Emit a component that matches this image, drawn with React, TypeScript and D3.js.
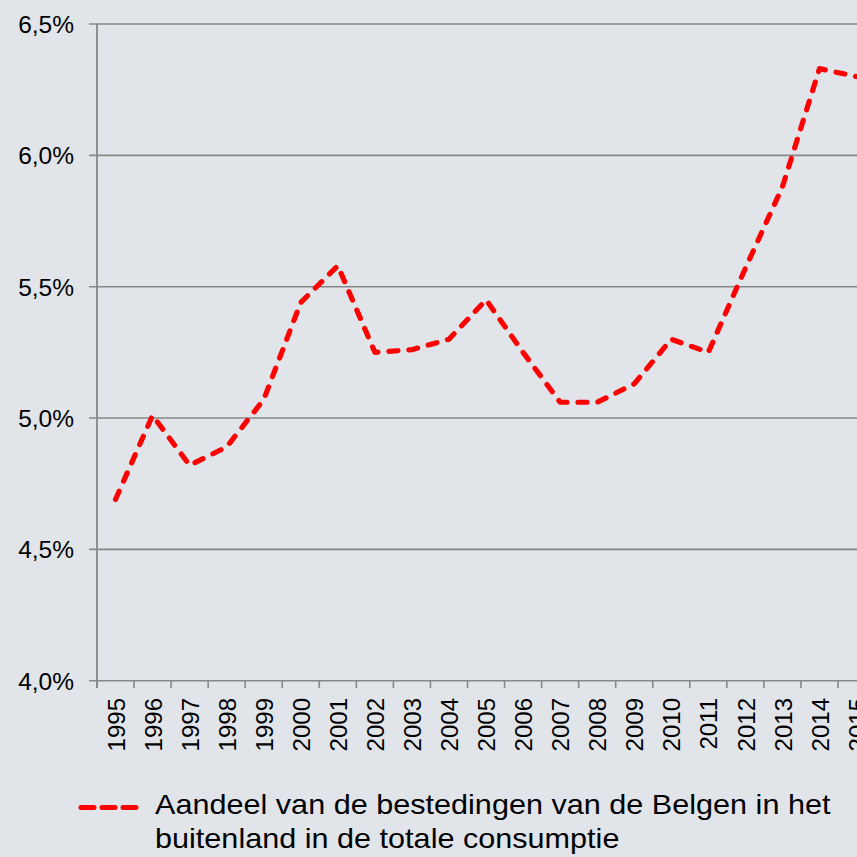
import React from "react";
import * as d3 from "d3";

const years = ["1995","1996","1997","1998","1999","2000","2001","2002","2003","2004","2005","2006","2007","2008","2009","2010","2011","2012","2013","2014","2015"];
const values = [4.69, 5.01, 4.82, 4.89, 5.07, 5.44, 5.58, 5.25, 5.26, 5.30, 5.45, 5.25, 5.06, 5.06, 5.13, 5.30, 5.25, 5.57, 5.88, 6.33, 6.30];
const yTicks = [4.0, 4.5, 5.0, 5.5, 6.0, 6.5];
const legendLines = ["Aandeel van de bestedingen van de Belgen in het", "buitenland in de totale consumptie"];

const W = 857, H = 857;
const FONT = "'Liberation Sans', Arial, sans-serif";

export default function App() {
  const x = d3.scaleBand<string>().domain(years).range([97, 97 + 21 * 37.05]).padding(0);
  const y = d3.scaleLinear().domain([4.0, 6.5]).range([680.7, 24]);
  const line = d3.line<number>()
    .x((_, i) => (x(years[i]) as number) + x.bandwidth() / 2)
    .y((d) => y(d));
  const fmt = (v: number) => v.toFixed(1).replace(".", ",") + "%";
  const grid = "#878787";
  return (
    <svg width={W} height={H} style={{ position: "absolute", left: 0, top: 0, display: "block" }}>
      <rect x={0} y={0} width={W} height={H} fill="#E1E4E8" />
      {yTicks.map((t) => (
        <g key={t}>
          <line x1={89} x2={W} y1={y(t)} y2={y(t)} stroke={grid} strokeWidth={1.6} />
          <text x={74} y={y(t)} dy="0.36em" textAnchor="end" fontFamily={FONT} fontSize={24.5} fill="#000">{fmt(t)}</text>
        </g>
      ))}
      <line x1={97} x2={97} y1={y(6.5)} y2={688} stroke={grid} strokeWidth={1.8} />
      {years.map((yr) => (
        <line key={"t" + yr} x1={(x(yr) as number)} x2={(x(yr) as number)} y1={y(4.0)} y2={688} stroke={grid} strokeWidth={1.6} />
      ))}
      <line x1={x(years[years.length - 1])! + x.bandwidth()} x2={x(years[years.length - 1])! + x.bandwidth()} y1={y(4.0)} y2={688} stroke={grid} strokeWidth={1.6} />
      {years.map((yr) => {
        const cx = (x(yr) as number) + x.bandwidth() / 2;
        return (
          <text key={"l" + yr} transform={`translate(${cx + 0.5},698) rotate(-90)`} textAnchor="end" dy="0.36em" fontFamily={FONT} fontSize={24} fill="#000">{yr}</text>
        );
      })}
      <path d={line(values) || ""} fill="none" stroke="#FF0000" strokeWidth={5.2} strokeDasharray="9 11" strokeLinecap="round" strokeLinejoin="round" />
      <line x1={81} x2={138} y1={807.5} y2={807.5} stroke="#FF0000" strokeWidth={5} strokeDasharray="13 8" strokeLinecap="round" />
      <g transform="translate(155,0) scale(1.093,1)">
        {legendLines.map((t, i) => (
          <text key={i} x={0} y={814.5 + i * 34} fontFamily={FONT} fontSize={28} fill="#000">{t}</text>
        ))}
      </g>
    </svg>
  );
}
